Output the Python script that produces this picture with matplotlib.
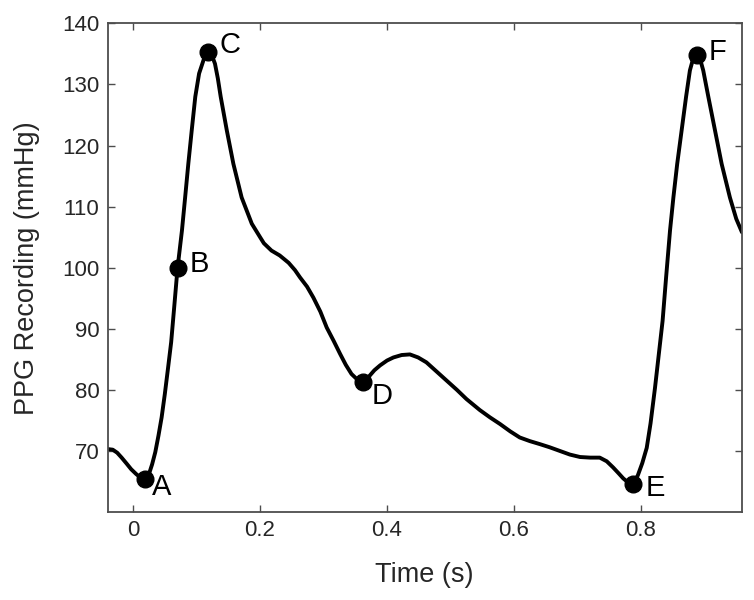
import matplotlib
matplotlib.use("Agg")
import matplotlib.pyplot as plt

plt.rcParams['font.family'] = ['Liberation Sans', 'DejaVu Sans']

time_s = [-0.040, -0.032, -0.025, -0.018, -0.010, -0.003, 0.005, 0.012, 0.019, 0.025,
          0.030, 0.035, 0.040, 0.045, 0.050, 0.055, 0.060, 0.065, 0.070, 0.0735,
          0.077, 0.082, 0.087, 0.0924, 0.098, 0.104, 0.111, 0.1186, 0.124, 0.129,
          0.1335, 0.138, 0.1476, 0.158, 0.171, 0.187, 0.200, 0.206, 0.218, 0.231,
          0.245, 0.255, 0.263, 0.274, 0.284, 0.295, 0.305, 0.316, 0.326, 0.335,
          0.344, 0.353, 0.362, 0.370, 0.380, 0.389, 0.400, 0.410, 0.423, 0.436,
          0.449, 0.462, 0.478, 0.494, 0.510, 0.525, 0.546, 0.562, 0.578, 0.594,
          0.609, 0.625, 0.641, 0.656, 0.672, 0.688, 0.704, 0.720, 0.735, 0.746,
          0.756, 0.765, 0.772, 0.780, 0.787, 0.795, 0.802, 0.809, 0.815, 0.822,
          0.828, 0.834, 0.8395, 0.8457, 0.851, 0.857, 0.864, 0.871, 0.877, 0.882,
          0.888, 0.893, 0.898, 0.906, 0.9165, 0.927, 0.940, 0.950, 0.959]
pressure = [70.3, 70.2, 69.7, 68.9, 67.9, 67.0, 66.2, 65.6, 65.4, 66.2,
            67.8, 69.8, 72.5, 75.5, 79.3, 83.5, 87.8, 93.8, 99.9, 103.0,
            106.1, 111.5, 117.0, 122.5, 128.0, 131.8, 134.0, 135.3, 134.8, 133.4,
            131.0, 128.0, 122.5, 117.0, 111.5, 107.2, 105.0, 104.0, 102.8, 102.0,
            100.8, 99.6, 98.4, 96.9, 95.1, 92.8, 90.2, 88.0, 85.9, 84.1,
            82.6, 81.7, 81.3, 82.0, 83.2, 84.0, 84.8, 85.3, 85.7, 85.8,
            85.3, 84.5, 83.0, 81.5, 80.0, 78.5, 76.7, 75.5, 74.4, 73.2,
            72.2, 71.6, 71.1, 70.6, 70.0, 69.4, 69.0, 68.9, 68.9, 68.3,
            67.3, 66.3, 65.5, 64.8, 64.5, 66.0, 68.0, 70.5, 74.5, 80.3,
            85.8, 91.3, 98.4, 106.1, 111.5, 117.0, 122.5, 128.0, 132.3, 134.2,
            134.8, 134.2, 132.3, 128.0, 122.5, 117.0, 111.5, 108.0, 105.8]

point_labels = ['A', 'B', 'C', 'D', 'E', 'F']
point_time = [0.019, 0.070, 0.1186, 0.362, 0.787, 0.888]
point_value = [65.4, 99.9, 135.3, 81.3, 64.5, 134.8]
label_offsets = [(5, -11.5), (9, -3), (8, -1), (6, -16), (9, -8), (8.5, -3.6)]

x_ticks = [0, 0.2, 0.4, 0.6, 0.8]
x_ticklabels = ['0', '0.2', '0.4', '0.6', '0.8']
y_ticks = [70, 80, 90, 100, 110, 120, 130, 140]

fig = plt.figure(figsize=(7.54, 6.0), dpi=100)
ax = fig.add_axes([0.1428, 0.1467, 0.8409, 0.8143])

ax.plot(time_s, pressure, color='black', lw=2.8, solid_joinstyle='round',
        solid_capstyle='round', zorder=2)
ax.plot(point_time, point_value, 'o', color='black', ms=12, zorder=3)
for lab, px, py, off in zip(point_labels, point_time, point_value, label_offsets):
    ax.annotate(lab, (px, py), xytext=off, textcoords='offset points',
                ha='left', va='baseline', fontsize=21, color='black')

ax.set_xlim(-0.04, 0.9586)
ax.set_ylim(60, 140)
ax.set_xticks(x_ticks)
ax.set_xticklabels(x_ticklabels)
ax.set_yticks(y_ticks)

spine_color = '#4d4d4d'
for s in ax.spines.values():
    s.set_color(spine_color)
    s.set_linewidth(1.3)
ax.tick_params(direction='in', length=5, width=1.0, color=spine_color,
               top=True, right=True, labelsize=16, labelcolor='#262626', pad=6)

ax.set_xlabel('Time (s)', fontsize=19.5, color='#262626', labelpad=15)
ax.set_ylabel('PPG Recording (mmHg)', fontsize=19.5, color='#262626', labelpad=16)

fig.savefig('out.png', dpi=100)
